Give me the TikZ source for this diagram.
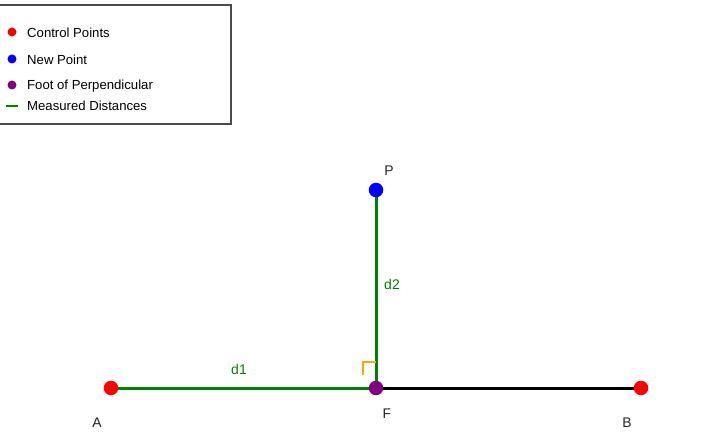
\documentclass[tikz,border=0pt]{standalone}
\usepackage{fontspec}
\setmainfont{Liberation Sans}
\usetikzlibrary{positioning}

\definecolor{ptred}{RGB}{255,0,0}
\definecolor{ptblue}{RGB}{0,0,255}
\definecolor{ptpurple}{RGB}{128,0,128}
\definecolor{distgreen}{RGB}{0,128,0}
\definecolor{angleorange}{RGB}{255,165,0}

\tikzset{
	dot/.style={circle, inner sep=0pt, minimum size=14.5bp},
	keydot/.style={circle, inner sep=0pt, minimum size=9bp},
	keytext/.style={anchor=west, inner sep=0pt, font=\fontsize{13.2}{15}\selectfont},
	ptlabel/.style={inner sep=0pt, font=\fontsize{14}{16}\selectfont, text=black!85},
	distlabel/.style={inner sep=0pt, font=\fontsize{14}{16}\selectfont, text=distgreen}
}

\begin{document}
\begin{tikzpicture}[x=1bp, y=-1bp]
			\useasboundingbox (0,0) rectangle (720,440);

			% legend
			\draw[line width=1.3bp, black!70] (-2,5) rectangle (231,124);
			\node[keydot, fill=ptred] (kred) at (12,32) {};
			\node[keytext] (tred) at (27,33) {Control Points};
			\node[keydot, fill=ptblue] (kblue) at (12,59) {};
			\node[keytext] (tblue) at (27,60) {New Point};
			\node[keydot, fill=ptpurple] (kpurple) at (12,85) {};
			\node[keytext] (tpurple) at (27,86) {Foot of Perpendicular};
			\coordinate (kg1) at (6,106);
			\coordinate (kg2) at (18,106);
			\draw[line width=2.2bp, distgreen] (kg1) -- (kg2);
			\node[keytext] (tgreen) at (27,106) {Measured Distances};

			% points
			\coordinate (A) at (111,388);
			\coordinate (B) at (641,388);
			\coordinate (F) at (376,388);
			\coordinate (P) at (376,190);

			\draw[line width=3bp, black] (F) -- (B);
			\draw[line width=3bp, distgreen] (A) -- (F);
			\draw[line width=3bp, distgreen] (P) -- (F);

			% right angle mark
			\coordinate (r1) at (363,375);
			\coordinate (r2) at (363,362);
			\coordinate (r3) at (376,362);
			\draw[line width=2.5bp, angleorange] (r1) -- (r2) -- (r3);

			\node[dot, fill=ptred] (dA) at (A) {};
			\node[dot, fill=ptred] (dB) at (B) {};
			\node[dot, fill=ptblue] (dP) at (P) {};
			\node[dot, fill=ptpurple] (dF) at (F) {};

			\node[ptlabel] (lA) at (97,423) {A};
			\node[ptlabel] (lB) at (627,423) {B};
			\node[ptlabel] (lF) at (387,414) {F};
			\node[ptlabel] (lP) at (389,171) {P};
			\node[distlabel] (ld1) at (239,370) {d1};
			\node[distlabel] (ld2) at (392,285) {d2};
\end{tikzpicture}
\end{document}
